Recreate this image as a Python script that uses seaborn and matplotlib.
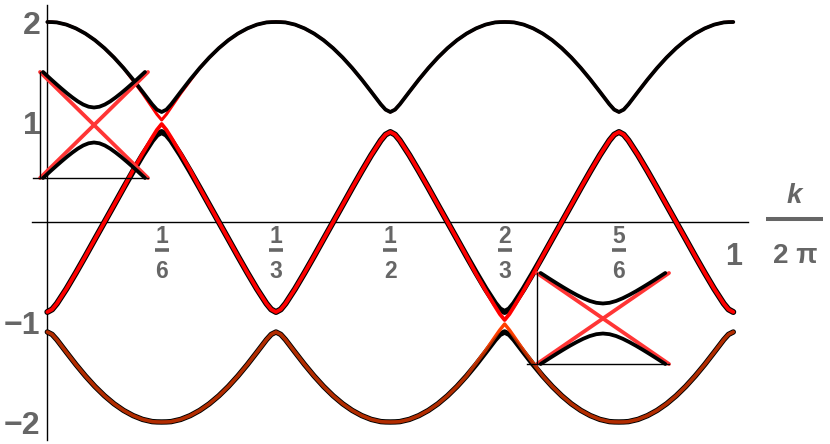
import numpy as np
import matplotlib
matplotlib.use("Agg")
import matplotlib.pyplot as plt
import seaborn as sns

# ---------------- data ----------------
# k / (2 pi) sample positions, in units of 1/144
k_144 = [0, 1, 2, 4, 6, 8, 10, 12, 14, 16, 18, 20, 22, 23, 24, 25, 26, 28, 30, 32, 34, 36, 38, 40, 42, 44, 46, 47,
         48, 49, 50, 52, 54, 56, 58, 60, 62, 64, 66, 68, 70, 71, 72, 73, 74, 76, 78, 80, 82, 84, 86, 88, 90, 92, 94, 95,
         96, 97, 98, 100, 102, 104, 106, 108, 110, 112, 114, 116, 118, 119, 120, 121, 122, 124, 126, 128, 130, 132, 134,
         136, 138, 140, 142, 143,
         144]

top_black = [2.000, 1.999, 1.996, 1.974, 1.936, 1.884, 1.818, 1.738, 1.645, 1.540, 1.425, 1.302, 1.177, 1.124,
             1.100, 1.124, 1.177, 1.302, 1.425, 1.540, 1.645, 1.738, 1.818, 1.884, 1.936, 1.974, 1.996, 1.999,
             2.000, 1.999, 1.996, 1.974, 1.936, 1.884, 1.818, 1.738, 1.645, 1.540, 1.425, 1.302, 1.177, 1.124,
             1.100, 1.124, 1.177, 1.302, 1.425, 1.540, 1.645, 1.738, 1.818, 1.884, 1.936, 1.974, 1.996, 1.999,
             2.000, 1.999, 1.996, 1.974, 1.936, 1.884, 1.818, 1.738, 1.645, 1.540, 1.425, 1.302, 1.177, 1.124,
             1.100, 1.124, 1.177, 1.302, 1.425, 1.540, 1.645, 1.738, 1.818, 1.884, 1.936, 1.974, 1.996, 1.999,
             2.000]

top_red = [2.000, 1.999, 1.996, 1.974, 1.936, 1.884, 1.818, 1.738, 1.645, 1.540, 1.414, 1.286, 1.147, 1.077,
           1.020, 1.077, 1.147, 1.286, 1.414, 1.540, 1.645, 1.738, 1.818, 1.884, 1.936, 1.974, 1.996, 1.999,
           2.000, 1.999, 1.996, 1.974, 1.936, 1.884, 1.818, 1.738, 1.645, 1.540, 1.425, 1.302, 1.177, 1.124,
           1.100, 1.124, 1.177, 1.302, 1.425, 1.540, 1.645, 1.738, 1.818, 1.884, 1.936, 1.974, 1.996, 1.999,
           2.000, 1.999, 1.996, 1.974, 1.936, 1.884, 1.818, 1.738, 1.645, 1.540, 1.425, 1.302, 1.177, 1.124,
           1.100, 1.124, 1.177, 1.302, 1.425, 1.540, 1.645, 1.738, 1.818, 1.884, 1.936, 1.974, 1.996, 1.999,
           2.000]

mid_black = [-0.900, -0.874, -0.816, -0.669, -0.508, -0.341, -0.170, 0.000, 0.170, 0.341, 0.508, 0.669, 0.816, 0.874,
             0.900, 0.874, 0.816, 0.669, 0.508, 0.341, 0.170, 0.000, -0.170, -0.341, -0.508, -0.669, -0.816, -0.874,
             -0.900, -0.874, -0.816, -0.669, -0.508, -0.341, -0.170, 0.000, 0.170, 0.341, 0.508, 0.669, 0.816, 0.874,
             0.900, 0.874, 0.816, 0.669, 0.508, 0.341, 0.170, 0.000, -0.170, -0.341, -0.508, -0.669, -0.816, -0.874,
             -0.900, -0.874, -0.816, -0.669, -0.508, -0.341, -0.170, 0.000, 0.170, 0.341, 0.508, 0.669, 0.816, 0.874,
             0.900, 0.874, 0.816, 0.669, 0.508, 0.341, 0.170, 0.000, -0.170, -0.341, -0.508, -0.669, -0.816, -0.874,
             -0.900]

mid_red = [-0.900, -0.874, -0.816, -0.669, -0.508, -0.341, -0.170, 0.000, 0.170, 0.341, 0.518, 0.684, 0.845, 0.921,
           0.980, 0.921, 0.845, 0.684, 0.518, 0.341, 0.170, 0.000, -0.170, -0.341, -0.508, -0.669, -0.816, -0.874,
           -0.900, -0.874, -0.816, -0.669, -0.508, -0.341, -0.170, 0.000, 0.170, 0.341, 0.508, 0.669, 0.816, 0.874,
           0.900, 0.874, 0.816, 0.669, 0.508, 0.341, 0.170, 0.000, -0.170, -0.341, -0.518, -0.684, -0.845, -0.921,
           -0.980, -0.921, -0.845, -0.684, -0.518, -0.341, -0.170, 0.000, 0.170, 0.341, 0.508, 0.669, 0.816, 0.874,
           0.900, 0.874, 0.816, 0.669, 0.508, 0.341, 0.170, 0.000, -0.170, -0.341, -0.508, -0.669, -0.816, -0.874,
           -0.900]

bot_black = [-1.100, -1.124, -1.177, -1.302, -1.425, -1.540, -1.645, -1.738, -1.818, -1.884, -1.936, -1.974, -1.996,
             -1.999, -2.000, -1.999, -1.996, -1.974, -1.936, -1.884, -1.818, -1.738, -1.645, -1.540, -1.425, -1.302,
             -1.177, -1.124,
             -1.100, -1.124, -1.177, -1.302, -1.425, -1.540, -1.645, -1.738, -1.818, -1.884, -1.936, -1.974, -1.996,
             -1.999, -2.000, -1.999, -1.996, -1.974, -1.936, -1.884, -1.818, -1.738, -1.645, -1.540, -1.425, -1.302,
             -1.177, -1.124,
             -1.100, -1.124, -1.177, -1.302, -1.425, -1.540, -1.645, -1.738, -1.818, -1.884, -1.936, -1.974, -1.996,
             -1.999, -2.000, -1.999, -1.996, -1.974, -1.936, -1.884, -1.818, -1.738, -1.645, -1.540, -1.425, -1.302,
             -1.177, -1.124,
             -1.100]

bot_red = [-1.100, -1.124, -1.177, -1.302, -1.425, -1.540, -1.645, -1.738, -1.818, -1.884, -1.936, -1.974, -1.996,
           -1.999, -2.000, -1.999, -1.996, -1.974, -1.936, -1.884, -1.818, -1.738, -1.645, -1.540, -1.425, -1.302,
           -1.177, -1.124,
           -1.100, -1.124, -1.177, -1.302, -1.425, -1.540, -1.645, -1.738, -1.818, -1.884, -1.936, -1.974, -1.996,
           -1.999, -2.000, -1.999, -1.996, -1.974, -1.936, -1.884, -1.818, -1.738, -1.645, -1.540, -1.414, -1.286,
           -1.147, -1.079,
           -1.020, -1.079, -1.147, -1.286, -1.414, -1.540, -1.645, -1.738, -1.818, -1.884, -1.936, -1.974, -1.996,
           -1.999, -2.000, -1.999, -1.996, -1.974, -1.936, -1.884, -1.818, -1.738, -1.645, -1.540, -1.425, -1.302,
           -1.177, -1.124,
           -1.100]

# axis ticks / labels
y_major = [-2, -1, 1, 2]
y_major_labels = ["\u22122", "\u22121", "1", "2"]
y_minor = [-1.8, -1.6, -1.4, -1.2, -0.8, -0.6, -0.4, -0.2, 0.2, 0.4, 0.6, 0.8, 1.2, 1.4, 1.6, 1.8]
x_frac_pos = [1 / 6, 1 / 3, 1 / 2, 2 / 3, 5 / 6]
x_frac_num = ["1", "1", "1", "2", "5"]
x_frac_den = ["6", "3", "2", "3", "6"]

# insets: zoom of the avoided crossing (normalised units)
inset_line_x = [-1.0, 1.0]
inset_red_a = [-1.0, 1.0]
inset_red_b = [1.0, -1.0]
inset_hyp_x = [-0.944, -0.9, -0.8, -0.7, -0.6, -0.5, -0.4, -0.3, -0.2, -0.1, 0.0,
               0.1, 0.2, 0.3, 0.4, 0.5, 0.6, 0.7, 0.8, 0.9, 0.944]
inset_upper = [1.000, 0.959, 0.865, 0.774, 0.685, 0.599, 0.519, 0.446, 0.386, 0.345, 0.330,
               0.345, 0.386, 0.446, 0.519, 0.599, 0.685, 0.774, 0.865, 0.959, 1.000]
inset_lower = [-1.000, -0.959, -0.865, -0.774, -0.685, -0.599, -0.519, -0.446, -0.386, -0.345, -0.330,
               -0.345, -0.386, -0.446, -0.519, -0.599, -0.685, -0.774, -0.865, -0.959, -1.000]

# ---------------- style ----------------
sns.set_style("white")
plt.rcParams["font.family"] = ["Liberation Sans", "DejaVu Sans"]
GRAY = "#666666"
PX = 0.72  # points per pixel at dpi 100

fig = plt.figure(figsize=(8.3, 4.44), dpi=100)
fig.patch.set_facecolor("white")
ax = fig.add_axes([0, 0, 1, 1])
ax.set_facecolor("none")

k = np.array(k_144) / 144.0


def curve(axis, x, y, color, lw_px, z, alpha=1.0):
    sns.lineplot(x=x, y=y, ax=axis, color=color, linewidth=lw_px * PX, alpha=alpha,
                 zorder=z, estimator=None, sort=False, legend=False)


# top band: red under black
curve(ax, k, top_red, "#FF0000", 3.0, 2)
curve(ax, k, top_black, "#000000", 3.8, 3)
# middle band: black outline, red on top
curve(ax, k, mid_black, "#000000", 6.0, 4)
curve(ax, k, mid_red, "#FF0000", 3.8, 5)
# bottom band: black outline, orange-red, shaded by translucent black
curve(ax, k, bot_black, "#000000", 5.4, 4)
curve(ax, k, bot_red, "#FF4000", 3.4, 5)
curve(ax, k, bot_black, "#000000", 3.4, 6, alpha=0.3)

ax.set_xlim(-0.069, 1.141)
ax.set_ylim(-2.22, 2.22)
ax.set_xlabel("")
ax.set_ylabel("")
for s in ["top", "right"]:
    ax.spines[s].set_visible(False)
ax.spines["left"].set_position(("data", 0))
ax.spines["bottom"].set_position(("data", 0))
ax.spines["left"].set_bounds(-2.18, 2.17)
ax.spines["bottom"].set_bounds(-0.022, 1.022)
for s in ["left", "bottom"]:
    ax.spines[s].set_color("black")
    ax.spines[s].set_linewidth(1.0)
    ax.spines[s].set_zorder(1)

ax.set_yticks(y_major)
ax.set_yticklabels(y_major_labels)
ax.set_yticks(y_minor, minor=True)
ax.tick_params(axis="y", which="major", direction="in", length=4.3, width=0.8, color="black",
               labelsize=23, labelcolor=GRAY, pad=5)
ax.tick_params(axis="y", which="minor", direction="in", length=2.2, width=0.8, color="black")
for t in ax.get_yticklabels():
    t.set_fontweight("bold")
ax.set_xticks(x_frac_pos + [1.0])
ax.set_xticklabels([])
ax.tick_params(axis="x", which="major", direction="in", length=3.0, width=0.8, color="black")

# fraction tick labels
for x, n, d in zip(x_frac_pos, x_frac_num, x_frac_den):
    ax.text(x, -0.21, n, ha="center", va="baseline", fontsize=16.5, fontweight="bold", color=GRAY)
    ax.text(x, -0.56, d, ha="center", va="baseline", fontsize=16.5, fontweight="bold", color=GRAY)
    ax.plot([x - 0.0102, x + 0.0102], [-0.285, -0.285], color=GRAY, lw=2.6, solid_capstyle="butt")
ax.text(1.0, -0.43, "1", ha="center", va="baseline", fontsize=22, fontweight="bold", color=GRAY)

# axis label k / (2 pi)
ax.text(1.0885, 0.19, "k", ha="center", va="baseline", fontsize=20, fontweight="bold",
        style="italic", color=GRAY)
ax.plot([1.0477, 1.1307], [0.03, 0.03], color=GRAY, lw=2.9, solid_capstyle="butt")
ax.text(1.0901, -0.41, "2 \u03c0", ha="center", va="baseline", fontsize=20, fontweight="bold", color=GRAY)


def make_inset(rect, xmin):
    a = fig.add_axes(rect)
    a.set_facecolor("none")
    curve(a, inset_line_x, inset_red_a, "#FF3535", 3.8, 2)
    curve(a, inset_line_x, inset_red_b, "#FF3535", 3.8, 2)
    curve(a, inset_hyp_x, inset_upper, "#000000", 3.8, 3)
    curve(a, inset_hyp_x, inset_lower, "#000000", 3.8, 3)
    for ln in a.get_lines():
        ln.set_clip_on(False)
    a.set_xlim(xmin, 1.0)
    a.set_ylim(-1.0, 1.0)
    a.set_xlabel("")
    a.set_ylabel("")
    a.set_xticks([])
    a.set_yticks([])
    for s in ["top", "right"]:
        a.spines[s].set_visible(False)
    a.spines["left"].set_position(("data", -1.0))
    for s in ["left", "bottom"]:
        a.spines[s].set_color("black")
        a.spines[s].set_linewidth(1.0)
    return a


make_inset([33 / 830, (444 - 178) / 444, 115 / 830, 106 / 444], -1.13)
make_inset([527 / 830, (444 - 364) / 444, 142 / 830, 91 / 444], -1.15)

fig.savefig("out.png", dpi=100, facecolor="white")
